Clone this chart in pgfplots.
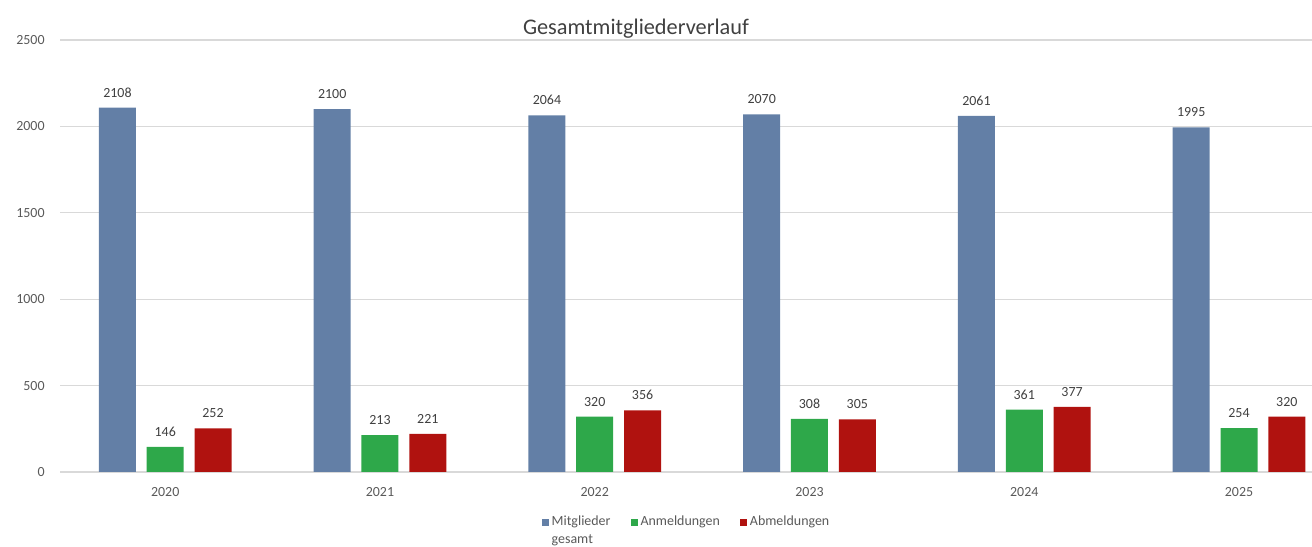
\documentclass[border=0pt]{standalone}
\usepackage{pgfplots}
\pgfplotsset{compat=1.18}
\usepackage{fontspec}
\setmainfont{Carlito}
\definecolor{cBlue}{HTML}{637FA6}
\definecolor{cGreen}{HTML}{2EA84A}
\definecolor{cRed}{HTML}{B0120F}
\definecolor{cGrid}{HTML}{D9D9D9}
\definecolor{cTick}{HTML}{595959}
\definecolor{cText}{HTML}{404040}
\begin{document}
\begin{tikzpicture}
\path[use as bounding box] (0,0) rectangle (656bp,273.5bp);
\begin{axis}[
 at={(30bp,37.5bp)}, anchor=south west,
 scale only axis, width=626bp, height=216bp,
 xmin=-0.49, xmax=5.34, ymin=0, ymax=2500,
 ybar=5.4bp, bar width=18.5bp,
 xtick={0,...,5}, xticklabels={2020,2021,2022,2023,2024,2025},
 ytick={0,500,...,2500},
 ymajorgrids, grid style={cGrid, line width=0.6bp},
 axis line style={draw=none},
 major tick length=0pt,
 /pgf/number format/1000 sep={},
 /pgf/number format/assume math mode=true,
 tick label style={font=\fontsize{7}{8}\selectfont, text=cTick},
 yticklabel style={anchor=east, inner sep=0pt, xshift=-7.5bp},
 xticklabel style={anchor=center, inner sep=0pt, yshift=-10bp},
 nodes near coords,
 nodes near coords style={font=\fontsize{7}{8}\selectfont, text=cText, anchor=south, inner sep=0pt, yshift=5bp},
 title={Gesamtmitgliederverlauf},
 title style={at={(axis description cs:0.46,0.998)}, anchor=center, font=\fontsize{11.2}{13}\selectfont, text=cText, inner sep=0pt},
 legend columns=3,
 legend cell align=left,
 legend style={at={(axis description cs:0.5,-0.116)}, anchor=center, draw=none, fill=none,
   font=\fontsize{7}{9}\selectfont, text=cTick,
   nodes={inner sep=0.5bp},
   /tikz/every odd column/.append style={column sep=1bp},
   /tikz/every even column/.append style={column sep=9.5bp}},
 legend image code/.code={\fill[#1] (0bp,-1.75bp) rectangle (3.5bp,1.75bp);},
]
\addplot[fill=cBlue, draw=none] coordinates {(0,2108) (1,2100) (2,2064) (3,2070) (4,2061) (5,1995)};
\addlegendentry{\raisebox{0pt}[\height][0pt]{\vtop{\hbox{Mitglieder}\hbox{gesamt}}}}
\addplot[fill=cGreen, draw=none] coordinates {(0,146) (1,213) (2,320) (3,308) (4,361) (5,254)};
\addlegendentry{\raisebox{0pt}[\height][0pt]{Anmeldungen}}
\addplot[fill=cRed, draw=none] coordinates {(0,252) (1,221) (2,356) (3,305) (4,377) (5,320)};
\addlegendentry{\raisebox{0pt}[\height][0pt]{Abmeldungen}}
\end{axis}
\end{tikzpicture}
\end{document}
